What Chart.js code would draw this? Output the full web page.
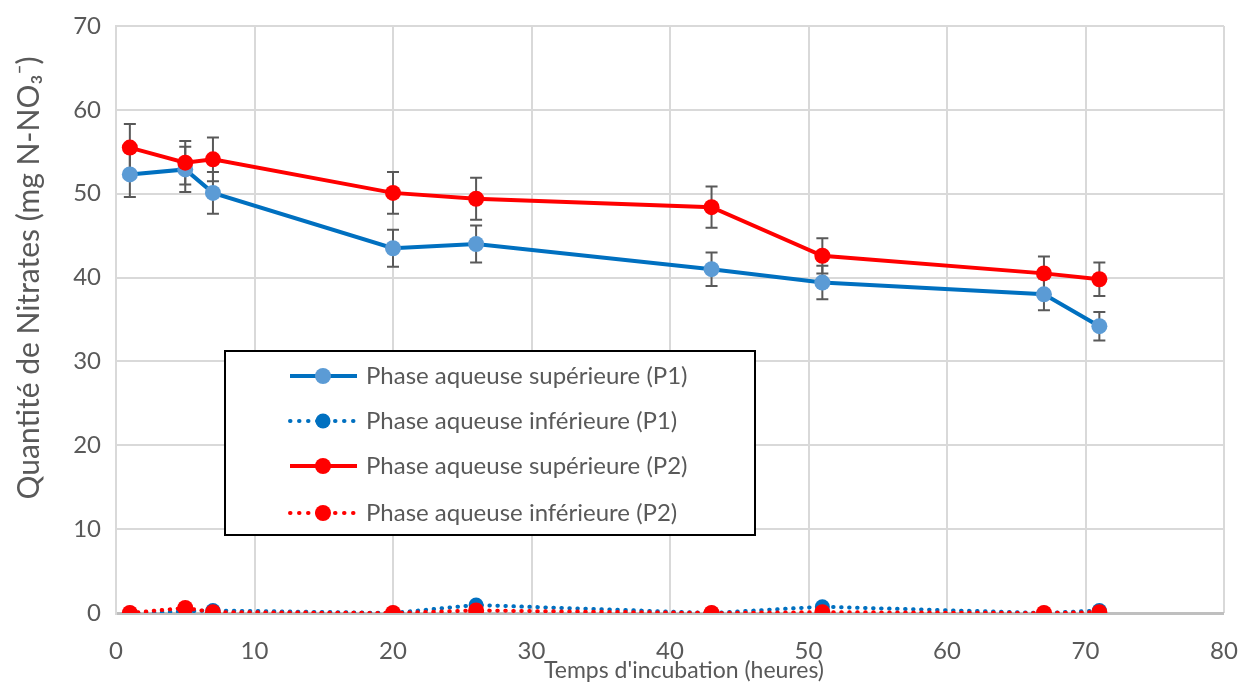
<!DOCTYPE html>
<html>
<head>
<meta charset="utf-8">
<script src="https://cdn.jsdelivr.net/npm/chart.js@4/dist/chart.umd.min.js"></script>
<style>
html,body{margin:0;padding:0;background:#fff;}
#wrap{width:1244px;height:683px;position:relative;}
</style>
</head>
<body>
<div id="wrap"><canvas id="c" width="1244" height="683"></canvas></div>
<script>
// ---- data ----
const times = [1, 5, 7, 20, 26, 43, 51, 67, 71];
const supP1 = [52.3, 52.9, 50.1, 43.5, 44.0, 41.0, 39.4, 38.0, 34.2];
const supP1Err = [2.7, 2.7, 2.5, 2.2, 2.2, 2.0, 2.0, 1.9, 1.7];
const infP1 = [0.0, 0.2, 0.3, 0.0, 0.95, 0.0, 0.75, 0.0, 0.3];
const supP2 = [55.5, 53.7, 54.1, 50.1, 49.4, 48.4, 42.6, 40.5, 39.8];
const supP2Err = [2.8, 2.6, 2.6, 2.5, 2.5, 2.45, 2.1, 2.0, 2.0];
const infP2 = [0.0, 0.6, 0.1, 0.0, 0.3, 0.0, 0.1, 0.0, 0.1];
const seriesLabels = [
  "Phase aqueuse supérieure (P1)",
  "Phase aqueuse inférieure (P1)",
  "Phase aqueuse supérieure (P2)",
  "Phase aqueuse inférieure (P2)"
];
const xTitle = "Temps d'incubation (heures)";
const yTitle = "Quantité de Nitrates (mg N-NO₃⁻)";

const pts = (ys) => times.map((t, i) => ({x: t, y: ys[i]}));
const FONT = "Lato, 'Open Sans', sans-serif";
const TXT = '#595959';

const errorBars = {
  id: 'errorBars',
  beforeDatasetsDraw(chart) {
    const ctx = chart.ctx, xs = chart.scales.x, ys = chart.scales.y;
    ctx.save();
    ctx.strokeStyle = '#595959';
    ctx.lineWidth = 2;
    [[supP1, supP1Err], [supP2, supP2Err]].forEach(([vals, errs]) => {
      vals.forEach((v, i) => {
        const px = xs.getPixelForValue(times[i]);
        const top = ys.getPixelForValue(v + errs[i]);
        const bot = ys.getPixelForValue(v - errs[i]);
        ctx.beginPath();
        ctx.moveTo(px, top); ctx.lineTo(px, bot);
        ctx.moveTo(px - 6, top); ctx.lineTo(px + 6, top);
        ctx.moveTo(px - 6, bot); ctx.lineTo(px + 6, bot);
        ctx.stroke();
      });
    });
    ctx.restore();
  }
};

const axisTitles = {
  id: 'axisTitles',
  afterDraw(chart) {
    const ctx = chart.ctx;
    ctx.save();
    ctx.fillStyle = TXT;
    ctx.textAlign = 'center';
    ctx.textBaseline = 'middle';
    ctx.font = "23px " + FONT;
    ctx.fillText(xTitle, 684, 671);
    ctx.translate(29, 278);
    ctx.rotate(-Math.PI / 2);
    ctx.font = "30px " + FONT;
    ctx.fillText(yTitle, 0, 0);
    ctx.restore();
  }
};

const boxLegend = {
  id: 'boxLegend',
  afterDraw(chart) {
    const ctx = chart.ctx;
    const L = 225, T = 351, W = 530, H = 184;
    ctx.save();
    ctx.fillStyle = '#fff';
    ctx.fillRect(L, T, W, H);
    ctx.strokeStyle = '#000';
    ctx.lineWidth = 2;
    ctx.strokeRect(L, T, W, H);
    const rows = [376, 421, 466, 513];
    chart.data.datasets.forEach((ds, i) => {
      const y = rows[i];
      ctx.beginPath();
      ctx.strokeStyle = ds.borderColor;
      ctx.lineWidth = ds.borderWidth;
      ctx.lineCap = ds.borderDash ? 'round' : 'butt';
      ctx.setLineDash(ds.borderDash ? [0.5, 8.5] : []);
      ctx.moveTo(290, y); ctx.lineTo(357, y);
      ctx.stroke();
      ctx.setLineDash([]);
      ctx.beginPath();
      ctx.fillStyle = ds.pointBackgroundColor;
      ctx.arc(323, y, ds.pointRadius, 0, Math.PI * 2);
      ctx.fill();
      ctx.fillStyle = TXT;
      ctx.font = "24px " + FONT;
      ctx.textBaseline = 'middle';
      ctx.fillText(ds.label, 366, y);
    });
    ctx.restore();
  }
};

new Chart(document.getElementById('c'), {
  type: 'line',
  data: {
    datasets: [
      {label: seriesLabels[0], data: pts(supP1), borderColor: '#0070C0', borderWidth: 4,
       pointBackgroundColor: '#5B9BD5', pointBorderWidth: 0, pointRadius: 8, order: 4},
      {label: seriesLabels[1], data: pts(infP1), borderColor: '#0070C0', borderWidth: 4,
       borderDash: [0.5, 7.5], borderCapStyle: 'round',
       pointBackgroundColor: '#0070C0', pointBorderWidth: 0, pointRadius: 7.5, order: 3},
      {label: seriesLabels[2], data: pts(supP2), borderColor: '#FF0000', borderWidth: 4,
       pointBackgroundColor: '#FF0000', pointBorderWidth: 0, pointRadius: 8, order: 2},
      {label: seriesLabels[3], data: pts(infP2), borderColor: '#FF0000', borderWidth: 4,
       borderDash: [0.5, 7.5], borderCapStyle: 'round',
       pointBackgroundColor: '#FF0000', pointBorderWidth: 0, pointRadius: 8, order: 1}
    ]
  },
  options: {
    responsive: false,
    animation: false,
    layout: {padding: {left: 0, right: 20, top: 26, bottom: 0}},
    plugins: {legend: {display: false}, tooltip: {enabled: false}},
    elements: {line: {tension: 0}},
    scales: {
      x: {
        type: 'linear', min: 0, max: 80,
        ticks: {stepSize: 10, color: TXT, font: {family: FONT, size: 24}, padding: 24},
        grid: {color: '#d9d9d9', lineWidth: 2, drawTicks: false},
        border: {display: false},
        title: {display: false},
        afterFit(s) { s.height = 70; s.paddingRight = 0; s.paddingLeft = 0; }
      },
      y: {
        min: 0, max: 70,
        ticks: {stepSize: 10, color: TXT, font: {family: FONT, size: 24}, padding: 15},
        grid: {color: (c) => c.tick && c.tick.value === 0 ? '#bfbfbf' : '#d9d9d9',
               lineWidth: (c) => c.tick && c.tick.value === 0 ? 3 : 2, drawTicks: false},
        border: {display: true, color: '#d9d9d9', width: 2},
        title: {display: false},
        afterFit(s) { s.width = 116; s.paddingTop = 0; s.paddingBottom = 0; }
      }
    }
  },
  plugins: [errorBars, boxLegend, axisTitles]
});
</script>
</body>
</html>
